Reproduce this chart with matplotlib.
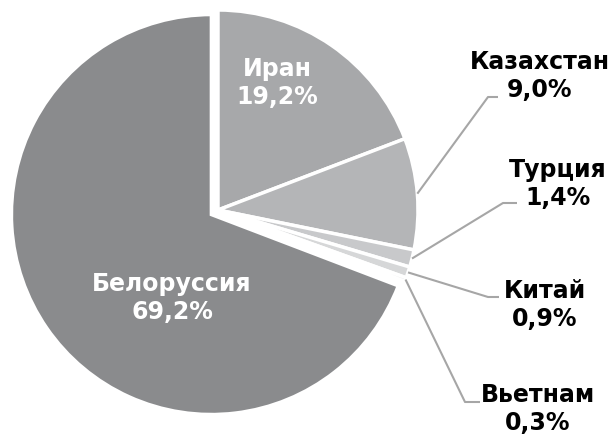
import numpy as np
import matplotlib.pyplot as plt

countries = ['Иран', 'Казахстан', 'Турция', 'Китай', 'Вьетнам', 'Белоруссия']
shares = [19.2, 9.0, 1.4, 0.9, 0.3, 69.2]
labels = ['19,2%', '9,0%', '1,4%', '0,9%', '0,3%', '69,2%']
colors = ['#a7a8aa', '#b4b5b7', '#c8c9cb', '#d6d7d8', '#e2e2e3', '#8a8b8d']
explode = [0, 0, 0, 0, 0, 0.04]

W, H = 612, 434
cx, cy, R = 218, H - 210, 200

fig = plt.figure(figsize=(W / 100, H / 100), dpi=100)
ax = fig.add_axes([0, 0, 1, 1])

# pie explode is in data units, so scale it by the radius
wedges, _ = ax.pie(shares, colors=colors, explode=[e * R for e in explode],
                   startangle=90, counterclock=False, center=(cx, cy), radius=R,
                   wedgeprops=dict(edgecolor='white', linewidth=2.5))
ax.set_xlim(0, W)
ax.set_ylim(0, H)
ax.set_aspect('equal')
ax.axis('off')

font = dict(fontsize=17, fontweight='bold', family='DejaVu Sans',
            ha='center', va='center', linespacing=1.25)

# labels inside the two big slices (image coords -> data coords)
ax.text(277, H - 83, countries[0] + '\n' + labels[0], color='white', **font)
ax.text(172, H - 298, countries[5] + '\n' + labels[5], color='white', **font)

# outside labels with leader lines: text pos, elbow, end of stub
outside = {
    1: ((540, 76), (488, 97), (498, 97)),
    2: ((558, 184), (503, 203), (517, 203)),
    3: ((545, 305), (488, 297), (499, 297)),
    4: ((538, 409), (465, 402), (480, 402)),
}
for i, (tpos, elbow, stub) in outside.items():
    w = wedges[i]
    ang = np.deg2rad((w.theta1 + w.theta2) / 2)
    x0 = cx + R * np.cos(ang)
    y0 = cy + R * np.sin(ang)
    ax.plot([x0, elbow[0], stub[0]], [y0, H - elbow[1], H - stub[1]],
            color='#a6a6a6', lw=1.5, solid_capstyle='butt')
    ax.text(tpos[0], H - tpos[1], countries[i] + '\n' + labels[i],
            color='black', **font)

fig.savefig('out.png', dpi=100)
